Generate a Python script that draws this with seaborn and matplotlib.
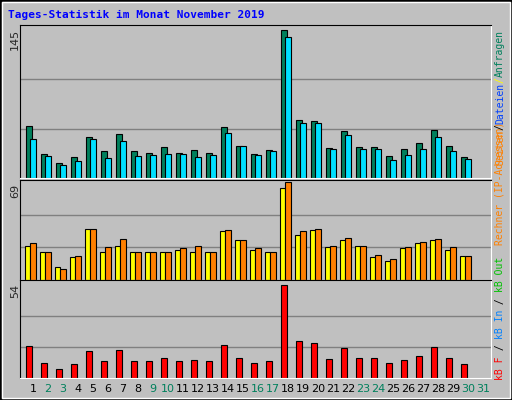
import numpy as np
import pandas as pd
import matplotlib
matplotlib.use("Agg")
import matplotlib.pyplot as plt
import seaborn as sns

days = list(range(1, 32))
weekend = [2, 3, 9, 10, 16, 17, 23, 24, 30, 31]

# Anfragen / Dateien (days 1-30, day 31 no data)
anfragen = [51, 24, 15, 21, 40, 26, 43, 26, 25, 30, 25, 27, 25, 50, 31, 24, 27, 145,
            57, 56, 29, 46, 30, 30, 22, 28, 34, 47, 31, 21]
dateien = [38, 22, 13, 17, 38, 20, 36, 22, 23, 24, 24, 21, 23, 44, 31, 23, 26, 138,
           54, 54, 28, 42, 28, 28, 18, 23, 28, 40, 26, 19]
# Besuche / Rechner
besuche = [24, 20, 9, 16.5, 36, 19.5, 24, 20, 19.5, 19.5, 21, 20, 20, 34.5, 28.5, 21, 20, 65,
           31.5, 35, 23, 28.5, 24, 16.5, 13.5, 22.5, 26, 28.5, 21, 17]
rechner = [26, 20, 8, 17, 36, 23, 29, 20, 20, 20, 22.5, 24, 20, 35, 28.5, 22.5, 20, 69,
           34.5, 36, 24, 30, 24, 18, 15, 23, 27, 29, 23, 17]
# kB F
kb = [18.5, 9, 5.5, 8, 15.5, 9.7, 16, 9.7, 9.7, 11.4, 9.7, 10.2, 9.7, 19, 11.4, 9, 9.7, 54,
      21.5, 20.3, 10.8, 17.3, 11.4, 11.4, 8.5, 10.2, 12.6, 17.9, 11.4, 8]

n = len(anfragen)
d = np.array(days[:n])

sns.set_style("white")
plt.rcParams["font.family"] = ["DejaVu Sans Mono", "DejaVu Sans"]

W, H = 512, 400
fig = plt.figure(figsize=(W / 100, H / 100), dpi=100)
fig.patch.set_facecolor("#c0c0c0")
# outer bevel
fig.add_artist(plt.Rectangle((0, 0), 1, 1, transform=fig.transFigure, fill=False,
                             edgecolor="#000000", lw=2))
fig.add_artist(plt.Rectangle((2 / W, 2 / H), 1 - 4 / W, 1 - 4 / H, transform=fig.transFigure,
                             fill=False, edgecolor="#ffffff", lw=1))


def panel(y0, y1):
    ax = fig.add_axes([20 / W, 1 - y1 / H, (491 - 20) / W, (y1 - y0) / H])
    ax.set_facecolor("#c0c0c0")
    for s in ["left", "top"]:
        ax.spines[s].set_color("#000000")
    for s in ["right", "bottom"]:
        ax.spines[s].set_color("#ffffff")
    return ax


def finish(ax, top):
    ax.set_ylim(0, top)
    ax.set_xlim(0.13, 31.53)
    ax.set_xticks([])
    ax.set_yticks([])
    ax.set_xlabel("")
    ax.set_ylabel("")


def bars(ax, x, y, color, width):
    df = pd.DataFrame({"x": x, "y": y})
    sns.barplot(data=df, x="x", y="y", native_scale=True, color=color, width=width,
                edgecolor="black", linewidth=0.8, saturation=1, ax=ax)


def grid(ax, top):
    for g in (top / 3, 2 * top / 3):
        ax.axhline(g, color="#808080", lw=1, zorder=0)


# top panel
ax1 = panel(25, 178)
grid(ax1, 145)
bars(ax1, d - 0.27, anfragen, "#00805c", 0.45)
bars(ax1, d, dateien, "#00e0ff", 0.45)
finish(ax1, 150)

# middle panel
ax2 = panel(180, 280)
grid(ax2, 69)
bars(ax2, d - 0.37, besuche, "#ffff00", 0.3)
bars(ax2, d, rechner, "#ff8000", 0.45)
finish(ax2, 70.7)

# bottom panel
ax3 = panel(280, 378)
grid(ax3, 54)
bars(ax3, d - 0.27, kb, "#ff0000", 0.45)
finish(ax3, 57)

# day labels
for day in days:
    ax3.text(day, -0.11, str(day), transform=ax3.get_xaxis_transform(), ha="center", va="center",
             fontsize=8, family="DejaVu Sans",
             color="#00805c" if day in weekend else "#000000")

# max labels
for y, t in [(25, "145"), (180, "69"), (280, "54")]:
    fig.text(15 / W, 1 - (y + 4) / H, t, rotation=90, ha="center", va="top", fontsize=8,
             family="DejaVu Sans")

fig.text(8 / W, 1 - 15 / H, "Tages-Statistik im Monat November 2019", fontsize=8,
         fontweight="bold", color="#0000ff", ha="left", va="center")

renderer = fig.canvas.get_renderer()


def side(pieces, ystart):
    y = ystart
    for t, c in pieces:
        txt = fig.text(500 / W, 1 - y / H, t, rotation=90, ha="center", va="bottom",
                       fontsize=7, color=c)
        ext = txt.get_window_extent(renderer)
        y -= ext.height


side([("kB F", "#ff0000"), (" / ", "#000000"), ("kB In", "#0080ff"), (" / ", "#000000"),
      ("kB Out", "#00c000")], 380)
side([("Rechner (IP-Adressen)", "#ff8000")], 245)
side([("Seiten", "#ff8000"), ("/", "#000000"), ("Dateien", "#0040ff"), ("/", "#ffff00"),
      ("Anfragen", "#00805c")], 165)

fig.savefig("out.png", dpi=100, facecolor=fig.get_facecolor())
